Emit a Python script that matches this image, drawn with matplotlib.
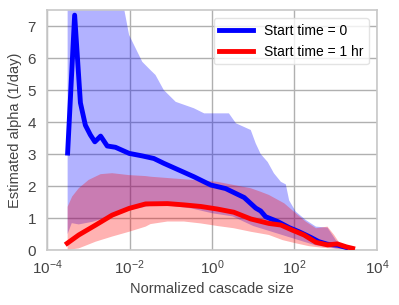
import numpy as np
import matplotlib
matplotlib.use("Agg")
import matplotlib.pyplot as plt

plt.rcParams['font.family'] = ['Liberation Sans', 'DejaVu Sans']
plt.rcParams['mathtext.fontset'] = 'custom'
plt.rcParams['mathtext.rm'] = 'Liberation Sans'
plt.rcParams['mathtext.it'] = 'Liberation Sans:italic'

# log10 of normalized cascade size, and estimated alpha
blue_lx = [-3.50, -3.33, -3.19, -3.07, -2.95, -2.84, -2.70, -2.54, -2.34, -2.01, -1.69, -1.41,
           -1.17, -0.84, -0.44, -0.03, 0.33, 0.78, 1.06, 1.18, 1.30, 1.59, 1.87, 2.11, 2.40,
           2.59, 2.80, 3.05, 3.25]
blue_y = [3.03, 7.34, 4.60, 3.90, 3.60, 3.38, 3.56, 3.25, 3.21, 3.02, 2.94, 2.86,
          2.71, 2.52, 2.29, 2.03, 1.92, 1.64, 1.31, 1.22, 1.04, 0.89, 0.70, 0.57, 0.39,
          0.26, 0.18, 0.15, 0.08]

red_lx = [-3.51, -3.23, -2.82, -2.42, -2.01, -1.61, -1.08, -0.68, -0.27, 0.13, 0.53, 0.94,
          1.38, 1.67, 1.95, 2.23, 2.52, 2.80, 3.04, 3.25, 3.41]
red_y = [0.21, 0.47, 0.78, 1.09, 1.30, 1.44, 1.45, 1.41, 1.36, 1.28, 1.18, 0.97,
         0.83, 0.78, 0.62, 0.47, 0.24, 0.16, 0.19, 0.10, 0.05]

blue_up_lx = [-3.50, -2.14, -2.01, -1.69, -1.49, -1.37, -1.17, -0.88, -0.44, -0.19, 0.41, 0.58,
              0.94, 1.06, 1.18, 1.35, 1.50, 1.67, 1.79, 1.87, 2.03, 2.27, 2.52, 2.80, 3.00,
              3.20, 3.41]
blue_up_y = [9.0, 7.6, 6.72, 5.88, 5.62, 5.47, 5.00, 4.63, 4.43, 4.27, 4.27, 3.96,
             3.75, 3.33, 3.00, 2.75, 2.40, 2.13, 2.05, 1.55, 1.20, 0.94, 0.73, 0.70, 0.31,
             0.10, 0.05]
blue_lo_lx = [-3.50, -3.40, -3.23, -2.90, -2.60, -2.40, -2.00, -1.50, -1.00, -0.50, 0.00,
              0.50, 1.00, 1.50, 2.00, 2.50, 3.00, 3.41]
blue_lo_y = [0.50, 0.84, 0.80, 0.88, 1.00, 1.08, 1.25, 1.38, 1.38, 1.30, 1.15,
             1.05, 0.75, 0.55, 0.35, 0.15, 0.05, 0.00]

red_up_lx = [-3.50, -3.39, -3.23, -2.99, -2.70, -2.42, -2.01, -1.61, -1.49, -0.68, 0.13,
             0.53, 0.94, 1.18, 1.38, 1.75, 2.03, 2.27, 2.52, 2.80, 2.96, 3.10, 3.41]
red_up_y = [1.35, 1.67, 1.93, 2.19, 2.37, 2.40, 2.34, 2.31, 2.29, 2.21, 2.13,
            2.03, 1.93, 1.82, 1.72, 1.46, 1.15, 0.89, 0.68, 0.73, 0.47, 0.20, 0.05]
red_lo_lx = [-3.50, -3.23, -2.82, -2.42, -2.01, -1.61, -1.49, -1.08, -0.68, -0.27, 0.13,
             0.53, 0.94, 1.38, 1.71, 2.03, 2.35, 2.68, 3.41]
red_lo_y = [0.00, 0.05, 0.26, 0.42, 0.57, 0.73, 0.81, 0.89, 0.89, 0.83, 0.75,
            0.68, 0.57, 0.47, 0.31, 0.21, 0.12, 0.07, 0.00]

labels = ['Start time = 0', 'Start time = 1 hr']

def sz(lx):
    return 10.0 ** np.asarray(lx)

fig = plt.figure(figsize=(3.99, 3.05), dpi=100)
ax = fig.add_axes([47/399, 1-250/305, 330/399, 240/305])

ax.fill(np.concatenate([sz(blue_up_lx), sz(blue_lo_lx)[::-1]]),
        np.concatenate([blue_up_y, blue_lo_y[::-1]]),
        color='blue', alpha=0.3, lw=0, zorder=2)
ax.fill(np.concatenate([sz(red_up_lx), sz(red_lo_lx)[::-1]]),
        np.concatenate([red_up_y, red_lo_y[::-1]]),
        color='red', alpha=0.3, lw=0, zorder=2)
ax.plot(sz(blue_lx), blue_y, color='blue', lw=3.5, label=labels[0], zorder=3,
        solid_joinstyle='round')
ax.plot(sz(red_lx), red_y, color='red', lw=3.5, label=labels[1], zorder=4,
        solid_joinstyle='round')

ax.set_xscale('log')
ax.set_xlim(1e-4, 1e4)
ax.set_ylim(0, 7.5)
ax.set_xticks([1e-4, 1e-2, 1e0, 1e2, 1e4])
ax.xaxis.set_minor_locator(matplotlib.ticker.NullLocator())
ax.set_yticks(range(0, 8))
ax.set_axisbelow(True)
ax.grid(True, color='#b0b0b0', lw=1)
for s in ax.spines.values():
    s.set_color('#c8c8c8')
    s.set_linewidth(1.2)
ax.tick_params(axis='both', length=0, labelsize=11, colors='#444444')
ax.tick_params(axis='x', pad=6)
ax.tick_params(axis='y', pad=8)
ax.set_xlabel('Normalized cascade size', fontsize=10.5, color='#444444', labelpad=4)
ax.set_ylabel('Estimated alpha (1/day)', fontsize=10.5, color='#444444', labelpad=4)
leg = ax.legend(loc='upper right', fontsize=10, frameon=True, handlelength=2.4,
                borderaxespad=0.6)
leg.get_frame().set_edgecolor('#dddddd')
fig.savefig('out.png', dpi=100)
